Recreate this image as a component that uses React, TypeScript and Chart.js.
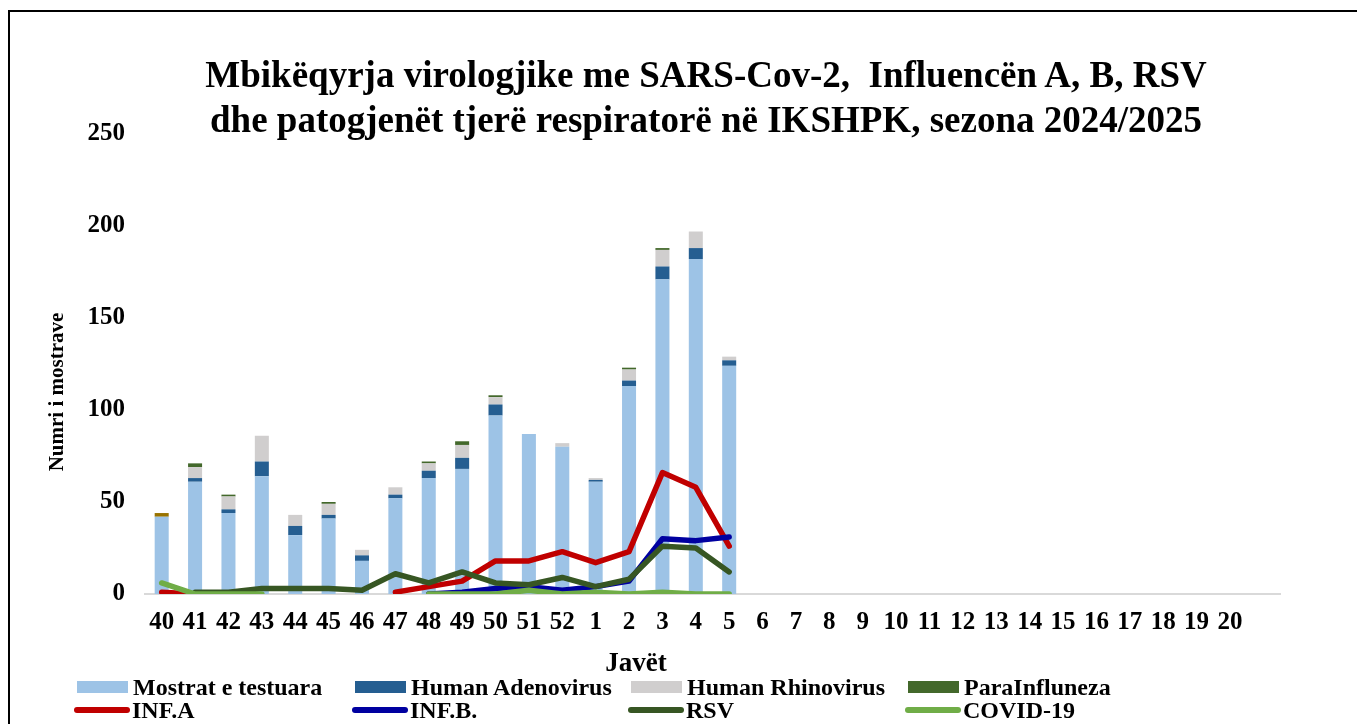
import React, { useEffect, useRef } from 'react';
import { Chart, registerables } from 'chart.js';

Chart.register(...registerables);

const weeks = ['40', '41', '42', '43', '44', '45', '46', '47', '48', '49', '50', '51', '52',
  '1', '2', '3', '4', '5', '6', '7', '8', '9', '10', '11', '12', '13', '14', '15', '16', '17', '18', '19', '20', ''];

const mostrat = [42, 61, 44, 64, 32, 41, 18, 52, 63, 68, 97, 87, 80, 61, 113, 171, 182, 124];
const adenovirus = [0, 2, 2, 8, 5, 2, 3, 2, 4, 6, 6, 0, 0, 1, 3, 7, 6, 3];
const rhinovirus = [0, 6, 7, 14, 6, 6, 3, 4, 4, 7, 4, 0, 2, 1, 6, 9, 9, 2];
const paraInfluenza = [0, 2, 1, 0, 0, 1, 0, 0, 1, 2, 1, 0, 0, 0, 1, 1, 0, 0];
const otherPathogens = [2, 0, 0, 0, 0, 0, 0, 0, 0, 0, 0, 0, 0, 0, 0, 0, 0, 0];

const infA = [1, 0, null, null, null, null, null, 1, 4, 7, 18, 18, 23, 17, 23, 66, 58, 26];
const infB = [null, null, null, null, null, null, null, null, 0, 1, 3, 4, 2, 4, 7, 30, 29, 31];
const rsv = [null, 1, 1, 3, 3, 3, 2, 11, 6, 12, 6, 5, 9, 4, 8, 26, 25, 12];
const covid = [6, 0, 0, 0, null, null, null, null, 0, 0, 0, 2, 0, 1, 0, 1, 0, 0];

const yTicks = [0, 50, 100, 150, 200, 250];

const FONT = '"Liberation Serif", "Times New Roman", serif';

const legendItems = [
  { label: 'Mostrat e testuara', color: '#9DC3E6', kind: 'box', col: 0, row: 0 },
  { label: 'Human Adenovirus', color: '#255E91', kind: 'box', col: 1, row: 0 },
  { label: 'Human Rhinovirus', color: '#D0CECE', kind: 'box', col: 2, row: 0 },
  { label: 'ParaInfluneza', color: '#43682B', kind: 'box', col: 3, row: 0 },
  { label: 'INF.A', color: '#C00000', kind: 'line', col: 0, row: 1 },
  { label: 'INF.B.', color: '#0000A0', kind: 'line', col: 1, row: 1 },
  { label: 'RSV', color: '#375623', kind: 'line', col: 2, row: 1 },
  { label: 'COVID-19', color: '#70AD47', kind: 'line', col: 3, row: 1 },
];
const legendColX = [67, 345, 621, 898];
const legendRowY = [675, 698];

export default function App() {
  const ref = useRef<HTMLCanvasElement>(null);

  useEffect(() => {
    if (!ref.current) return;
    const lineCommon = {
      type: 'line' as const,
      borderWidth: 5.5,
      pointRadius: 0,
      pointHoverRadius: 0,
      fill: false,
      tension: 0,
      spanGaps: false,
      borderCapStyle: 'round' as const,
      borderJoinStyle: 'round' as const,
    };
    const barCommon = {
      type: 'bar' as const,
      stack: 'bars',
      barPercentage: 0.42,
      categoryPercentage: 1,
      order: 10,
      borderWidth: 0,
    };
    const chart = new Chart(ref.current, {
      type: 'bar',
      data: {
        labels: weeks,
        datasets: [
          { ...barCommon, label: 'Mostrat e testuara', data: mostrat, backgroundColor: '#9DC3E6' },
          { ...barCommon, label: 'Human Adenovirus', data: adenovirus, backgroundColor: '#255E91' },
          { ...barCommon, label: 'Human Rhinovirus', data: rhinovirus, backgroundColor: '#D0CECE' },
          { ...barCommon, label: 'ParaInfluneza', data: paraInfluenza, backgroundColor: '#43682B' },
          { ...barCommon, label: 'Të tjerë', data: otherPathogens, backgroundColor: '#997300' },
          { ...lineCommon, label: 'INF.A', data: infA, stack: 'l1', borderColor: '#C00000', backgroundColor: '#C00000', order: 4 },
          { ...lineCommon, label: 'INF.B.', data: infB, stack: 'l2', borderColor: '#0000A0', backgroundColor: '#0000A0', order: 3 },
          { ...lineCommon, label: 'RSV', data: rsv, stack: 'l3', borderColor: '#375623', backgroundColor: '#375623', order: 2 },
          { ...lineCommon, label: 'COVID-19', data: covid, stack: 'l4', borderColor: '#70AD47', backgroundColor: '#70AD47', order: 1 },
        ] as any,
      },
      options: {
        animation: false,
        responsive: false,
        maintainAspectRatio: false,
        layout: { padding: { left: 0, right: 77, top: 122, bottom: 45 } },
        plugins: {
          legend: { display: false },
          title: { display: false },
          tooltip: { enabled: false },
        },
        scales: {
          x: {
            stacked: true,
            offset: true,
            grid: { display: false, drawTicks: false },
            border: { display: true, color: '#D9D9D9', width: 2 },
            ticks: {
              autoSkip: false,
              maxRotation: 0,
              minRotation: 0,
              padding: 14,
              color: '#000',
              font: { family: FONT, size: 25, weight: 'bold' },
            },
            afterFit: (s: any) => { s.height = 85; },
          },
          y: {
            stacked: true,
            min: 0,
            max: 250,
            afterBuildTicks: (s: any) => { s.ticks = yTicks.map((v) => ({ value: v })); },
            grid: { display: false, drawTicks: false },
            border: { display: false },
            ticks: {
              padding: 20,
              color: '#000',
              font: { family: FONT, size: 25, weight: 'bold' },
            },
            afterFit: (s: any) => { s.width = 135; },
          },
        },
      },
    });
    return () => chart.destroy();
  }, []);

  return (
    <div
      style={{
        position: 'absolute',
        left: 8,
        top: 10,
        width: 1349,
        height: 714,
        boxSizing: 'border-box',
        borderLeft: '2px solid #000',
        borderTop: '2px solid #000',
        overflow: 'hidden',
        background: '#fff',
        fontFamily: FONT,
      }}
    >
      <canvas ref={ref} width={1347} height={712} style={{ position: 'absolute', left: 0, top: 0, width: 1347, height: 712 }} />
      <div
        style={{
          position: 'absolute',
          left: 46,
          width: 1300,
          top: 40,
          textAlign: 'center',
          fontWeight: 'bold',
          fontSize: 37,
          lineHeight: '45px',
          color: '#000',
          whiteSpace: 'pre',
        }}
      >
        {'Mbikëqyrja virologjike me SARS-Cov-2,  Influencën A, B, RSV\ndhe patogjenët tjerë respiratorë në IKSHPK, sezona 2024/2025'}
      </div>
      <div
        style={{
          position: 'absolute',
          left: -104,
          top: 367,
          width: 300,
          height: 26,
          lineHeight: '26px',
          textAlign: 'center',
          fontWeight: 'bold',
          fontSize: 21,
          color: '#000',
          transform: 'rotate(-90deg)',
          whiteSpace: 'nowrap',
        }}
      >
        Numri i mostrave
      </div>
      <div
        style={{
          position: 'absolute',
          left: 526,
          width: 200,
          top: 635,
          textAlign: 'center',
          fontWeight: 'bold',
          fontSize: 27,
          lineHeight: '30px',
          color: '#000',
        }}
      >
        Javët
      </div>
      {legendItems.map((it) => (
        <div
          key={it.label}
          style={{
            position: 'absolute',
            left: legendColX[it.col],
            top: legendRowY[it.row] - 12,
            height: 24,
            display: 'flex',
            alignItems: 'center',
            whiteSpace: 'nowrap',
          }}
        >
          {it.kind === 'box' ? (
            <span style={{ display: 'inline-block', width: 51, height: 12, background: it.color, marginRight: 5 }} />
          ) : (
            <span style={{ display: 'inline-block', width: 56, height: 6, borderRadius: 3, background: it.color, marginLeft: -3, marginRight: 2 }} />
          )}
          <span style={{ fontWeight: 'bold', fontSize: 24, lineHeight: '24px', color: '#000' }}>{it.label}</span>
        </div>
      ))}
    </div>
  );
}
